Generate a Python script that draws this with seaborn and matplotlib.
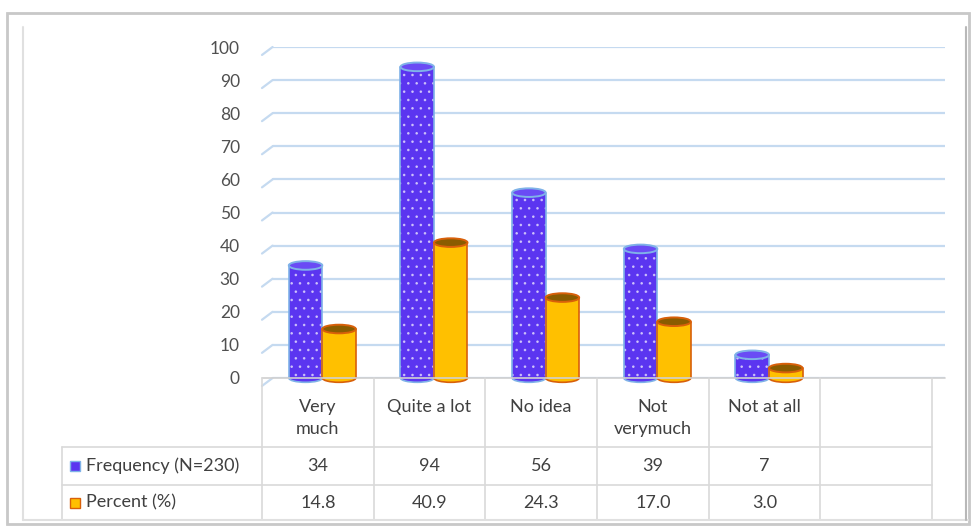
import matplotlib
matplotlib.use("Agg")
import matplotlib.pyplot as plt
from matplotlib.patches import Rectangle, Ellipse
from matplotlib.lines import Line2D
import seaborn as sns
import pandas as pd

categories = ["Very\nmuch", "Quite a lot", "No idea", "Not\nverymuch", "Not at all"]
frequency = [34, 94, 56, 39, 7]
percent = [14.8, 40.9, 24.3, 17.0, 3.0]
percent_labels = ["14.8", "40.9", "24.3", "17.0", "3.0"]
series_names = ["Frequency (N=230)", "Percent (%)"]
yticks = [0, 10, 20, 30, 40, 50, 60, 70, 80, 90, 100]

BLUE = "#5B35F0"
BLUE_EDGE = "#7FB2E8"
GOLD = "#FFC000"
GOLD_EDGE = "#D8600A"
TXT = "#404040"
GRID = "#C5DAF0"
TBL = "#D9D9D9"

df = pd.DataFrame({
    "category": categories * 2,
    "series": [series_names[0]] * len(categories) + [series_names[1]] * len(categories),
    "value": frequency + percent,
})

sns.set_theme(style="white")
plt.rcParams["font.family"] = ["Lato", "DejaVu Sans"]
plt.rcParams["hatch.linewidth"] = 0.7

W, H = 974, 531
fig = plt.figure(figsize=(W / 100, H / 100), dpi=100)

def fx(x):
    return x / W

def fy(y):
    return 1 - y / H

ax_left, ax_right, ax_top, ax_bottom = 262, 945, 47, 378
ax = fig.add_axes([fx(ax_left), fy(ax_bottom), fx(ax_right - ax_left), (ax_bottom - ax_top) / H])

sns.barplot(data=df, x="category", y="value", hue="series", order=categories,
            hue_order=series_names, palette=[BLUE, GOLD], width=0.6, ax=ax,
            legend=False, saturation=1)

ax.set_xlim(-0.5, 5.616)
ax.set_ylim(0, 100)
ax.set_yticks(yticks)
ax.set_xticks([])
ax.set_xlabel("")
ax.set_ylabel("")
for s in ax.spines.values():
    s.set_visible(False)
ax.tick_params(axis="y", length=0, pad=16, labelsize=12.5, labelcolor="#505050")
ax.patch.set_alpha(0)

# gridlines with 3-D floor-corner diagonal
for t in yticks:
    ax.add_line(Line2D([0.0155, 1], [t, t], transform=ax.get_yaxis_transform(),
                       color=GRID, lw=1.6, zorder=0))
    ax.add_line(Line2D([0, 0.0155], [t - 2.4, t], transform=ax.get_yaxis_transform(),
                       color=GRID, lw=1.6, zorder=0, clip_on=False))

# style bars as cylinders
shift = 0.04
ell_h = 2.6
bars = list(ax.patches)
for p in bars:
    p.set_x(p.get_x() + shift)
    fc = p.get_facecolor()
    is_blue = abs(fc[2] - 0.94) < 0.05
    x, w, h = p.get_x(), p.get_width(), p.get_height()
    z = p.get_zorder()
    if is_blue:
        p.set_edgecolor((1, 1, 1, 0.55))
        p.set_hatch("..")
        p.set_linewidth(0)
        ec, top_fc = BLUE_EDGE, "#6A4BF5"
    else:
        p.set_edgecolor(GOLD_EDGE)
        p.set_linewidth(0)
        ec, top_fc = GOLD_EDGE, "#8A5C00"
    if h <= 0:
        continue
    # side outlines
    ax.add_line(Line2D([x, x], [0, h], color=ec, lw=1.2, zorder=z + 0.05))
    ax.add_line(Line2D([x + w, x + w], [0, h], color=ec, lw=1.2, zorder=z + 0.05))
    # rounded bottom (only the lower half shows)
    ax.add_patch(Ellipse((x + w / 2, 0), w, ell_h, facecolor=fc,
                         edgecolor=ec, lw=1.2, zorder=z - 0.1, clip_on=False))
    # top cap
    ax.add_patch(Ellipse((x + w / 2, h), w, ell_h, facecolor=top_fc,
                         edgecolor=ec, lw=1.4, zorder=z + 0.1))

# ---- data table below ----
def data_to_px(xd):
    xp = ax.transData.transform((xd, 0))[0]
    return xp * 100 / fig.dpi

col_edges = [data_to_px(-0.5 + i) for i in range(7)]
row_top, row_h1, row_h2, row_bot = 378, 447, 485, 520
label_left = 62

def hline(x0, x1, y, color=TBL, lw=1.2):
    fig.add_artist(Line2D([fx(x0), fx(x1)], [fy(y), fy(y)], color=color, lw=lw))

def vline(x, y0, y1, color=TBL, lw=1.2):
    fig.add_artist(Line2D([fx(x), fx(x)], [fy(y0), fy(y1)], color=color, lw=lw))

hline(col_edges[0], ax_right, row_top, color="#D0D0D0")
hline(label_left, col_edges[-1], row_h1)
hline(label_left, col_edges[-1], row_h2)
hline(label_left, col_edges[-1], row_bot)
for xe in col_edges:
    vline(xe, row_top, row_bot)
vline(label_left, row_h1, row_bot)

fs = 13
for i, cat in enumerate(categories):
    cx = (col_edges[i] + col_edges[i + 1]) / 2
    fig.text(fx(cx), fy(399), cat, ha="center", va="top", fontsize=fs,
             color=TXT, linespacing=1.45)
    fig.text(fx(cx), fy((row_h1 + row_h2) / 2), str(frequency[i]), ha="center",
             va="center", fontsize=fs, color=TXT)
    fig.text(fx(cx), fy((row_h2 + row_bot) / 2), percent_labels[i], ha="center",
             va="center", fontsize=fs, color=TXT)

for j, (name, col, ec) in enumerate(zip(series_names, [BLUE, GOLD], [BLUE_EDGE, GOLD_EDGE])):
    yc = (row_h1 + row_h2) / 2 if j == 0 else (row_h2 + row_bot) / 2
    fig.add_artist(Rectangle((fx(70), fy(yc + 5)), fx(10), 10 / H, facecolor=col,
                             edgecolor=ec, lw=1))
    fig.text(fx(86), fy(yc), name, ha="left", va="center", fontsize=fs, color=TXT)

# ---- chart frame ----
fig.add_artist(Rectangle((fx(7), fy(524)), fx(962), (524 - 13) / H, fill=False,
                         edgecolor="#C8C8C8", lw=2.0))
fig.add_artist(Line2D([fx(23), fx(23)], [fy(27), fy(520)], color="#E0E0E0", lw=1.5))
fig.add_artist(Line2D([fx(23), fx(968)], [fy(520), fy(520)], color="#E0E0E0", lw=1.5))
fig.add_artist(Line2D([fx(966), fx(966)], [fy(27), fy(520)], color="#B8B8B8", lw=1.5))

fig.savefig("out.png", dpi=100)
